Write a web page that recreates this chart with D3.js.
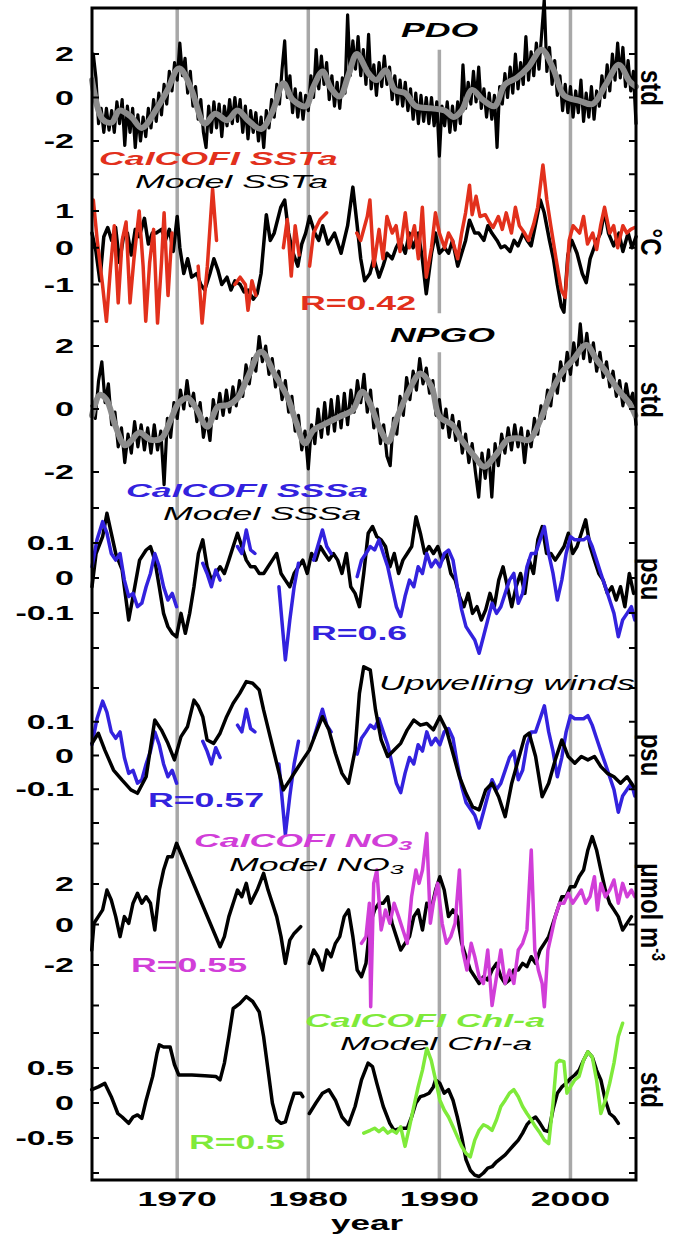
<!DOCTYPE html>
<html><head><meta charset="utf-8">
<script src="https://cdn.jsdelivr.net/npm/d3@7"></script>
<style>
html,body{margin:0;padding:0;background:#fff;}
svg{display:block;}
text{font-family:"Liberation Sans",Arial,Helvetica,sans-serif;}
</style></head><body>
<svg id="chart" width="683" height="1237"></svg>
<script>
// ---------------- DATA ----------------
const xTickYears = [1970, 1980, 1990, 2000];

// PDO monthly-ish index (std), regular step starting 1963.6
const pdoStart = 1963.6, pdoStep = 0.2;
const pdoIndex = [
 2.0,0.9,-1.2,-0.5,-1.6, -0.5,-1.5,-0.6,-1.6,-0.2, -1.2,-0.1,-2.2,-0.4,-1.6, -0.5,-2.3,-0.8,-2.0,-0.9,
 -1.8,-0.5,-1.4,-0.1,-1.1, 0.2,-0.8,0.6,-0.3,1.2, 0.3,1.6,0.8,2.5,1.0, 1.8,0.2,1.2,-0.4,0.5,
 -1.0,-0.1,-1.6,-2.3,-0.4, -1.6,-0.2,-1.4,-0.3,-1.8, -0.4,-1.3,-0.1,-1.2,0.0, -1.1,-0.1,-1.6,-0.4,-1.9,
 -0.6,-1.6,-0.7,-2.0,-0.9, -2.3,-0.6,-1.4,-0.1,-0.9, 0.6,-0.3,1.3,2.6,0.0, 1.0,-0.7,0.4,-0.9,0.2,
 -1.0,0.1,-0.6,1.0,0.0, 2.2,0.4,1.9,0.6,1.6, -0.1,1.0,-0.4,0.7,-0.5, 0.9,0.2,3.8,1.0,2.6,
 1.3,2.8,1.0,2.2,0.6, 2.9,0.4,1.5,0.1,1.6, 0.5,1.9,0.6,1.4,-0.1, 1.0,-0.3,0.8,-0.4,0.7,
 -0.6,0.4,-1.0,0.2,-1.2, 0.1,-1.1,0.0,-1.2,0.0, -1.3,-0.2,-2.7,-0.4,-1.3, -0.2,-1.6,-0.4,-1.5,-0.2,
 -1.2,1.5,-0.5,0.7,-0.3, 1.2,-0.2,1.4,-0.5,0.4, -0.9,0.2,-1.0,0.1,-2.3, 0.5,-0.3,1.1,0.0,1.4,
 0.2,2.0,0.4,1.6,0.6, 2.8,0.8,2.1,1.0,2.5, 1.3,2.9,4.5,1.2,2.3, 0.6,1.7,0.1,1.0,-0.6,
 0.6,-0.7,0.5,-0.9,0.3, -0.7,0.8,-1.1,0.2,-0.9, 0.5,-1.0,0.3,-0.4,1.0, 0.0,1.5,0.3,2.0,0.8,
 2.5,0.9,2.3,0.5,1.7, 0.3,1.2,-1.2
];
const pdoSmooth = [[1963.5,0.8],[1964.3,-1.0],[1965.0,-1.15],[1965.6,-0.6],[1966.5,-0.9],[1967.3,-1.4],[1968.5,-0.45],[1969.3,0.4],[1970.0,1.3],[1970.3,1.3],[1971.1,0.35],[1972.1,-1.2],[1972.9,-0.75],[1973.8,-1.05],[1974.6,-0.6],[1975.4,-1.05],[1976.4,-1.45],[1977.3,-0.6],[1978.1,0.65],[1978.8,-0.1],[1979.8,-0.4],[1980.4,0.5],[1981.1,1.2],[1981.7,0.45],[1982.4,0.05],[1983.1,1.1],[1983.7,2.0],[1984.6,1.1],[1985.2,0.8],[1985.9,1.25],[1986.6,0.35],[1987.4,0.2],[1988.2,-0.4],[1989.4,-0.5],[1990.4,-0.6],[1991.1,-0.9],[1991.7,-0.6],[1992.5,0.35],[1993.3,-0.1],[1994.2,-0.4],[1995.0,0.6],[1995.9,0.9],[1996.8,1.4],[1997.8,2.2],[1998.7,1.3],[1999.5,0.1],[2000.7,-0.15],[2001.7,-0.3],[2002.7,0.6],[2003.7,1.5],[2004.5,0.75],[2005.0,0.5]];

// SST anomalies (degC)
const sstModel = [[1963.5,0.4],[1963.8,-0.1],[1964.1,-0.9],[1964.4,0.3],[1964.7,0.55],[1965.0,0.2],[1965.3,0.55],[1965.6,-0.4],[1965.9,0.3],[1966.2,0.4],[1966.5,-0.2],[1966.8,0.5],[1967.1,0.3],[1967.5,0.8],[1967.8,0.1],[1968.1,0.4],[1968.4,0.4],[1968.8,0.5],[1969.1,0.2],[1969.4,0.5],[1969.7,-0.1],[1970.0,0.85],[1970.2,0.0],[1970.5,-0.7],[1970.8,-0.3],[1971.1,-0.8],[1971.5,-0.7],[1971.8,-1.0],[1972.1,-1.15],[1972.5,-0.7],[1972.8,-0.3],[1973.1,-0.6],[1973.4,-1.0],[1973.8,-0.8],[1974.1,-1.15],[1974.4,-0.9],[1974.8,-1.0],[1975.1,-1.2],[1975.4,-1.15],[1975.8,-1.4],[1976.1,-1.25],[1976.4,-0.7],[1976.8,0.9],[1977.1,0.2],[1977.4,0.4],[1977.9,1.1],[1978.2,1.3],[1978.5,0.4],[1978.8,-0.1],[1979.2,-0.5],[1979.5,0.1],[1979.8,0.4],[1980.1,0.85],[1980.5,0.4],[1980.8,0.2],[1981.1,0.6],[1981.5,0.1],[1982.0,0.4],[1982.5,-0.15],[1983.0,0.6],[1983.4,1.65],[1983.7,0.7],[1984.0,-0.3],[1984.3,-0.9],[1984.7,-0.7],[1985.0,-0.3],[1985.4,-0.8],[1985.7,-0.5],[1986.0,-0.15],[1986.4,-0.3],[1986.7,0.0],[1987.0,0.2],[1987.4,-0.15],[1987.7,0.4],[1988.0,0.0],[1988.4,0.4],[1988.7,-0.3],[1989.0,-1.25],[1989.4,-0.15],[1989.7,0.4],[1990.0,-0.15],[1990.4,0.0],[1990.7,-0.15],[1991.0,0.2],[1991.4,-0.5],[1991.7,-0.15],[1992.0,0.2],[1992.3,0.75],[1992.7,0.4],[1993.0,0.4],[1993.4,0.2],[1993.7,0.6],[1994.0,0.4],[1994.4,0.2],[1994.7,0.0],[1995.0,0.05],[1995.4,-0.1],[1995.7,0.2],[1996.0,0.05],[1996.4,0.4],[1996.7,0.2],[1997.0,0.05],[1997.4,0.75],[1997.7,1.3],[1998.0,0.95],[1998.4,0.2],[1998.7,-0.3],[1999.0,-1.0],[1999.3,-1.6],[1999.5,-1.75],[1999.8,-0.2],[2000.1,0.2],[2000.5,-0.15],[2000.9,-0.7],[2001.2,-0.95],[2001.5,-0.3],[2001.9,0.1],[2002.3,0.4],[2002.6,1.0],[2002.9,0.4],[2003.3,0.05],[2003.7,0.4],[2004.0,-0.1],[2004.4,0.4],[2004.7,0.0],[2005.0,0.3]];
const sstCalcofi = [[1963.6,1.3],[1963.9,0.2],[1964.3,-1.0],[1964.6,-2.0],[1964.9,-0.6],[1965.2,0.6],[1965.5,-1.5],[1965.8,0.2],[1966.1,0.7],[1966.4,-1.5],[1966.7,-0.3],[1967.1,1.0],[1967.4,-0.5],[1967.6,-2.0],[1967.9,-0.4],[1968.2,0.5],[1968.5,-2.05],[1968.8,-0.4],[1969.0,0.95],[1969.3,-1.3],[1969.6,0.4],[1970.8,null],
 [1971.6,-0.5],[1971.9,-2.05],[1972.3,-0.5],[1972.7,1.6],[1973.0,0.2],[1973.7,null],
 [1974.4,-1.0],[1974.8,-0.8],[1975.2,-1.0],[1975.4,-1.7],[1975.7,-0.9],[1976.0,-1.3],[1977.0,null],
 [1978.1,0.0],[1978.4,0.77],[1978.7,-0.77],[1979.0,0.6],[1979.3,-0.2],[1979.7,null],
 [1980.1,-0.5],[1980.4,0.4],[1980.9,0.77],[1981.4,0.95],[1982.5,null],
 [1983.7,0.4],[1984.0,0.2],[1984.5,0.85],[1984.7,1.3],[1985.0,-0.5],[1985.4,0.5],[1985.7,-0.3],[1986.0,0.85],[1986.4,0.4],[1986.7,0.6],[1987.0,-0.1],[1987.4,0.95],[1987.7,0.0],[1988.1,0.6],[1988.4,-0.3],[1988.7,1.1],[1989.0,-0.8],[1989.4,0.0],[1989.7,0.95],[1990.0,0.4],[1990.4,0.0],[1990.7,0.4],[1991.0,0.2],[1991.4,-0.3],[1991.7,0.4],[1992.0,0.95],[1992.3,1.7],[1992.5,0.9],[1992.8,1.4],[1993.1,0.85],[1993.5,0.9],[1993.8,0.7],[1994.1,0.55],[1994.5,0.85],[1994.8,0.5],[1995.1,0.95],[1995.5,0.4],[1995.8,1.1],[1996.1,0.6],[1996.5,0.4],[1996.8,0.2],[1997.2,0.65],[1997.5,1.1],[1997.9,2.25],[1998.2,1.3],[1998.5,0.6],[1998.9,-0.3],[1999.3,-1.15],[1999.6,-1.35],[1999.9,0.2],[2000.2,0.6],[2000.7,0.4],[2001.0,0.85],[2001.3,0.1],[2001.7,0.4],[2002.0,-0.05],[2002.3,0.6],[2002.6,1.1],[2003.0,0.4],[2003.3,0.6],[2003.6,0.0],[2004.0,0.6],[2004.3,0.4],[2004.6,0.5],[2004.9,0.55]];

// NPGO index (std), regular step starting 1963.5
const npgoStart = 1963.5, npgoStep = 0.25;
const npgoIndex = [
 0.1,-0.3,0.9,1.5,0.2, 0.8,-0.5,-0.1,-1.2,-0.6, -1.7,-0.8,-1.4,-0.4,-1.2, -0.5,-1.3,-0.6,-1.4,-0.5,
 -1.3,-0.7,-2.4,-0.3,-0.9, 0.2,-0.3,0.6,0.0,0.9, 0.1,0.5,-0.4,0.2,-0.9, -0.3,-1.0,0.3,-0.3,0.5,
 -0.2,0.6,-0.1,0.7,0.1, 0.9,0.4,1.4,0.8,1.6, 1.2,2.3,1.5,2.0,1.1, 1.6,0.7,1.2,0.3,0.9,
 -0.1,0.4,-0.7,-0.2,-1.3, -0.7,-1.9,-0.5,-1.1,0.0, -0.9,0.2,-0.8,0.3,-0.7, 0.4,-0.6,0.5,-0.5,0.6,
 -0.1,0.9,0.2,1.1,-0.1, 0.6,-0.6,0.0,-1.1,-0.5, -1.5,-1.8,-0.3,-0.8,0.4, -0.2,1.0,0.3,1.2,0.6,
 1.6,0.8,1.3,0.5,0.9, -0.2,0.3,-0.6,0.0,-0.9, -0.2,-1.0,-0.4,-1.4,-0.8, -1.7,-1.1,-2.0,-2.8,-1.4,
 -2.2,-1.3,-2.8,-1.1,-1.8, -0.8,-1.4,-0.6,-1.3,-0.5, -1.2,-0.6,-1.7,-0.7,-1.2, -0.3,-0.8,0.1,-0.3,0.6,
 0.1,1.1,0.5,1.5,0.9, 1.8,1.1,2.1,1.4,2.7, 1.6,2.4,1.5,2.1,1.2, 1.8,1.0,1.5,0.7,1.2,
 0.4,0.9,0.1,0.8,0.2, 0.5,-0.5
];
const npgoSmooth = [[1963.5,-0.2],[1964.1,0.45],[1964.6,0.3],[1965.3,-0.55],[1966.0,-1.15],[1966.5,-1.0],[1967.1,-0.75],[1968.0,-0.98],[1968.8,-0.93],[1969.5,-0.35],[1970.1,0.18],[1970.8,0.35],[1971.45,0.02],[1972.3,-0.56],[1973.1,0.07],[1973.9,0.13],[1974.6,0.34],[1975.4,1.03],[1976.4,1.82],[1977.4,1.13],[1978.4,0.39],[1979.1,-0.45],[1979.75,-1.09],[1980.4,-0.67],[1981.4,-0.45],[1982.4,-0.24],[1983.4,-0.03],[1984.1,0.55],[1984.7,0.18],[1985.4,-0.56],[1986.1,-1.04],[1986.7,-0.35],[1987.7,0.6],[1988.55,1.13],[1989.4,0.71],[1990.0,-0.24],[1991.0,-0.51],[1991.7,-0.98],[1992.7,-1.51],[1993.4,-1.83],[1994.4,-1.41],[1995.2,-0.98],[1996.0,-0.93],[1996.85,-0.98],[1997.7,-0.35],[1998.5,0.5],[1999.3,1.13],[2000.2,1.56],[2001.2,2.03],[2002.0,1.56],[2002.8,1.13],[2003.65,0.6],[2004.5,0.18],[2004.95,-0.2]];

// SSS anomalies (psu)
const sssModel = [[1963.5,-0.025],[1963.81,0.07],[1964.31,0.118],[1964.64,0.185],[1964.97,0.128],[1965.31,0.07],[1965.8,0.023],[1966.3,-0.12],[1966.63,-0.053],[1967.13,0.051],[1967.63,0.08],[1967.96,0.09],[1968.29,0.051],[1968.63,-0.025],[1968.96,-0.101],[1969.29,-0.139],[1969.62,-0.158],[1969.95,-0.168],[1970.29,-0.101],[1970.62,-0.158],[1970.95,-0.101],[1971.28,-0.025],[1971.62,0.07],[1971.95,0.109],[1972.28,0.032],[1972.61,-0.006],[1972.94,0.013],[1973.27,0.032],[1973.6,0.013],[1973.94,0.051],[1974.27,0.09],[1974.6,0.128],[1974.93,0.09],[1975.27,0.051],[1975.6,0.032],[1975.93,0.032],[1976.26,0.013],[1976.6,0.013],[1976.93,0.032],[1977.26,0.051],[1977.59,0.07],[1977.92,0.013],[1978.25,-0.006],[1978.59,-0.025],[1978.92,0.013],[1979.25,0.032],[1979.58,0.051],[1979.92,0.013],[1980.25,0.07],[1980.58,0.051],[1980.91,0.09],[1981.24,0.07],[1981.58,0.051],[1981.91,0.07],[1982.24,0.051],[1982.57,0.013],[1982.91,0.07],[1983.24,-0.025],[1983.57,-0.044],[1983.9,-0.082],[1984.23,0.013],[1984.57,0.128],[1984.9,0.147],[1985.23,0.118],[1985.56,0.109],[1985.89,0.09],[1986.23,0.032],[1986.56,0.07],[1986.89,0.013],[1987.22,0.051],[1987.55,0.07],[1987.89,0.09],[1988.22,0.175],[1988.55,0.128],[1988.88,0.07],[1989.21,0.09],[1989.55,0.07],[1989.88,0.09],[1990.21,0.051],[1990.54,0.07],[1990.87,0.013],[1991.21,-0.006],[1991.54,-0.053],[1991.87,-0.082],[1992.2,-0.044],[1992.53,-0.101],[1992.87,-0.082],[1993.2,-0.12],[1993.53,-0.091],[1993.86,-0.044],[1994.19,-0.082],[1994.53,-0.006],[1994.86,0.032],[1995.19,-0.025],[1995.52,-0.082],[1995.85,-0.025],[1996.19,0.013],[1996.52,-0.044],[1996.85,0.051],[1997.18,0.013],[1997.51,0.109],[1997.85,0.147],[1998.18,0.07],[1998.51,0.07],[1998.84,0.051],[1999.17,0.07],[1999.51,0.09],[1999.84,0.128],[2000.17,0.07],[2000.5,0.09],[2000.83,0.128],[2001.16,0.166],[2001.5,0.09],[2001.83,0.051],[2002.16,0.013],[2002.49,-0.006],[2002.82,-0.044],[2003.16,-0.025],[2003.49,-0.063],[2003.82,-0.025],[2004.15,-0.082],[2004.49,0.013],[2004.82,-0.044]];
const sssCalcofi = [[1963.5,0.032],[1963.88,0.109],[1964.31,0.161],[1964.64,0.128],[1964.97,0.07],[1965.31,0.051],[1965.64,0.07],[1965.97,-0.006],[1966.3,-0.053],[1966.63,-0.044],[1966.97,-0.082],[1967.3,-0.072],[1967.63,-0.025],[1967.96,0.013],[1968.29,0.07],[1968.63,0.032],[1968.96,-0.025],[1969.29,-0.063],[1969.62,-0.044],[1969.95,-0.082],[1970.8,null],
 [1971.95,0.042],[1972.28,0.013],[1972.61,-0.025],[1972.94,0.023],[1973.27,-0.006],[1974.0,null],
 [1974.6,0.09],[1974.93,0.07],[1975.27,0.137],[1975.6,0.08],[1975.93,0.07],[1976.8,null],
 [1977.76,-0.025],[1978.25,-0.234],[1978.59,-0.12],[1978.92,-0.025],[1979.25,0.042],[1979.8,null],
 [1980.41,0.051],[1981.08,0.137],[1981.41,0.09],[1981.74,0.07],[1982.8,null],
 [1983.73,0.004],[1984.06,0.051],[1984.4,0.07],[1984.73,0.09],[1985.06,0.08],[1985.39,0.109],[1985.72,0.07],[1986.06,0.032],[1986.39,-0.025],[1986.72,-0.082],[1987.05,-0.11],[1987.38,-0.053],[1987.72,-0.006],[1988.05,-0.025],[1988.38,0.032],[1988.71,0.013],[1989.04,0.07],[1989.38,0.032],[1989.71,0.051],[1990.04,0.032],[1990.37,0.07],[1990.7,0.08],[1991.04,0.051],[1991.37,-0.025],[1991.7,-0.091],[1992.03,-0.139],[1992.36,-0.158],[1992.7,-0.177],[1993.03,-0.215],[1993.36,-0.168],[1993.69,-0.12],[1994.02,-0.072],[1994.36,-0.101],[1994.69,-0.082],[1995.02,-0.044],[1995.35,-0.006],[1995.68,0.013],[1996.02,-0.072],[1996.35,-0.044],[1996.68,0.032],[1997.01,0.07],[1997.34,0.07],[1997.68,0.109],[1998.01,0.147],[1998.34,0.07],[1998.67,0.013],[1999.0,-0.063],[1999.34,-0.006],[1999.67,0.07],[2000.0,0.118],[2000.33,0.109],[2000.66,0.109],[2001.0,0.109],[2001.33,0.118],[2001.66,0.09],[2001.99,0.051],[2002.32,0.013],[2002.66,-0.025],[2002.99,-0.063],[2003.32,-0.101],[2003.65,-0.168],[2003.98,-0.12],[2004.32,-0.101],[2004.65,-0.082],[2004.91,-0.12]];

// Upwelling-wind driven model salinity (psu)
const upwModel = [[1963.5,0.036],[1963.98,0.066],[1964.48,0.016],[1965.14,-0.043],[1965.8,-0.073],[1966.47,-0.102],[1966.97,-0.112],[1967.63,-0.063],[1968.29,0.105],[1968.79,0.076],[1969.29,0.036],[1969.79,-0.013],[1970.29,0.056],[1970.78,0.085],[1971.28,0.164],[1971.62,0.145],[1971.95,0.115],[1972.28,0.046],[1972.78,0.036],[1973.27,0.066],[1973.77,0.115],[1974.27,0.155],[1974.77,0.184],[1975.27,0.219],[1975.76,0.214],[1976.26,0.194],[1976.59,0.135],[1977.09,0.056],[1977.59,-0.023],[1978.09,-0.102],[1978.59,-0.073],[1979.08,-0.043],[1979.58,-0.013],[1980.08,0.016],[1980.58,0.066],[1981.08,0.115],[1981.57,0.076],[1982.07,0.006],[1982.57,-0.053],[1983.07,-0.082],[1983.57,0.016],[1983.9,0.184],[1984.23,0.263],[1984.73,0.253],[1985.13,0.135],[1985.56,0.046],[1986.06,-0.003],[1986.55,0.016],[1987.05,0.036],[1987.55,0.076],[1988.05,0.105],[1988.55,0.09],[1989.04,0.095],[1989.54,0.076],[1990.04,0.115],[1990.54,0.076],[1991.04,0.006],[1991.53,-0.063],[1992.03,-0.112],[1992.53,-0.152],[1993.03,-0.161],[1993.53,-0.102],[1994.02,-0.082],[1994.52,-0.122],[1995.02,-0.181],[1995.52,-0.082],[1996.02,-0.013],[1996.51,0.056],[1996.85,0.066],[1997.34,-0.003],[1997.84,-0.122],[1998.34,-0.082],[1998.84,-0.013],[1999.34,0.046],[1999.83,-0.003],[2000.33,-0.023],[2000.83,-0.003],[2001.33,-0.013],[2001.83,-0.003],[2002.32,-0.033],[2002.82,-0.053],[2003.32,-0.063],[2003.82,-0.082],[2004.32,-0.063],[2004.81,-0.092]];

// Nitrate (umol m-3)
const no3Model = [[1963.48,-1.26],[1963.65,0.06],[1963.98,0.39],[1964.31,0.72],[1964.64,1.70],[1964.97,1.21],[1965.31,0.39],[1965.64,-0.60],[1965.97,0.39],[1966.3,0.06],[1966.63,1.05],[1966.97,1.54],[1967.3,1.05],[1967.63,1.37],[1967.96,1.05],[1968.29,-0.27],[1968.63,1.70],[1968.96,2.69],[1969.29,3.35],[1969.62,3.35],[1969.95,4.01],[1973.27,-1.10],[1973.6,-0.60],[1973.94,0.39],[1974.27,1.05],[1974.6,1.70],[1974.93,1.37],[1975.27,2.03],[1975.6,1.05],[1976.1,1.70],[1976.59,2.53],[1976.93,1.70],[1977.26,1.05],[1977.59,0.39],[1977.92,-0.60],[1978.25,-1.92],[1978.59,-0.77],[1978.92,-0.44],[1979.42,-0.11],[1979.8,null],[1980.08,-1.92],[1980.41,-1.26],[1980.74,-1.59],[1981.08,-2.25],[1981.41,-1.26],[1981.74,-1.59],[1982.07,-0.93],[1982.4,-0.60],[1982.74,0.39],[1983.07,0.72],[1983.4,-0.60],[1983.73,-2.25],[1984.06,-2.58],[1984.4,-1.92],[1984.73,0.06],[1985.06,0.72],[1985.39,1.05],[1985.72,1.05],[1986.06,1.37],[1986.39,0.06],[1986.72,-0.60],[1987.05,-1.26],[1987.38,-0.93],[1987.72,-0.60],[1988.05,0.39],[1988.38,0.72],[1988.71,-0.27],[1989.04,1.05],[1989.38,0.72],[1989.71,1.70],[1990.04,2.36],[1990.37,1.70],[1990.7,0.39],[1991.04,0.72],[1991.37,0.39],[1991.7,-0.93],[1992.03,-1.59],[1992.36,-2.25],[1992.7,-2.58],[1993.03,-2.91],[1993.36,-2.58],[1993.69,-2.74],[1994.02,-2.25],[1994.36,-1.92],[1994.69,-2.58],[1995.02,-2.91],[1995.35,-2.74],[1995.68,-2.25],[1996.02,-2.25],[1996.35,-1.92],[1996.68,-2.08],[1997.01,-1.59],[1997.34,-1.92],[1997.68,-1.26],[1998.01,-0.93],[1998.34,-0.60],[1998.67,0.06],[1999.0,0.72],[1999.34,1.37],[1999.67,1.37],[2000.0,1.87],[2000.33,1.87],[2000.66,2.36],[2001.0,2.69],[2001.33,3.68],[2001.66,4.34],[2001.99,3.68],[2002.32,2.69],[2002.66,1.70],[2002.99,1.05],[2003.32,0.72],[2003.65,0.39],[2003.98,-0.27],[2004.32,0.06],[2004.65,0.39]];
const no3Calcofi = [[1984.06,-0.93],[1984.4,-0.60],[1984.66,1.05],[1984.76,-4.06],[1984.99,2.03],[1985.23,2.69],[1985.56,-0.27],[1985.89,0.72],[1986.22,0.06],[1986.55,1.05],[1986.89,0.39],[1987.22,-0.27],[1987.55,-0.93],[1987.88,1.37],[1988.21,2.69],[1988.45,2.03],[1988.71,2.69],[1989.04,4.50],[1989.31,0.06],[1989.54,1.05],[1989.87,2.03],[1990.21,0.06],[1990.54,-0.93],[1990.87,-0.60],[1991.2,0.06],[1991.53,2.69],[1991.77,-1.26],[1992.1,-2.25],[1992.43,-0.93],[1992.7,-1.59],[1993.03,-2.58],[1993.36,-2.91],[1993.69,-1.26],[1994.02,-4.0],[1994.36,-2.58],[1994.69,-1.26],[1995.02,-2.91],[1995.35,-2.25],[1995.68,-2.91],[1996.02,-1.26],[1996.35,-0.93],[1996.68,-0.27],[1997.01,3.68],[1997.28,-1.26],[1997.55,-2.25],[1997.84,-2.91],[1998.01,-4.06],[1998.28,-1.26],[1998.51,-0.60],[1998.84,0.39],[1999.17,1.05],[1999.5,1.05],[1999.83,1.54],[2000.17,1.05],[2000.5,1.37],[2000.83,1.70],[2001.16,1.05],[2001.49,1.37],[2001.83,2.36],[2002.06,0.72],[2002.32,2.03],[2002.66,1.37],[2002.99,1.70],[2003.32,2.20],[2003.65,1.05],[2003.98,2.03],[2004.32,1.37],[2004.65,1.70],[2004.91,1.37]];

// Chlorophyll-a (std)
const chlModel = [[1963.48,0.19],[1963.98,0.23],[1964.48,0.28],[1964.97,0.09],[1965.47,-0.15],[1965.8,-0.20],[1966.3,-0.29],[1966.63,-0.20],[1966.97,-0.17],[1967.3,-0.22],[1967.63,0.04],[1968.13,0.38],[1968.46,0.71],[1968.63,0.83],[1968.96,0.80],[1969.46,0.80],[1969.79,0.55],[1970.12,0.40],[1971.12,0.40],[1972.11,0.39],[1972.94,0.38],[1973.27,0.33],[1973.6,0.57],[1973.94,0.95],[1974.27,1.35],[1974.77,1.42],[1975.27,1.52],[1975.76,1.45],[1976.26,1.30],[1976.59,0.95],[1976.93,0.47],[1977.26,0.0],[1977.59,-0.24],[1977.92,-0.29],[1978.25,-0.27],[1978.59,-0.05],[1978.92,0.14],[1979.42,0.14],[1979.58,0.09],[1979.8,null],[1980.08,-0.15],[1980.58,0.0],[1981.08,0.14],[1981.57,0.19],[1982.07,0.04],[1982.57,-0.20],[1983.07,-0.31],[1983.57,-0.05],[1984.06,0.33],[1984.56,0.57],[1984.9,0.52],[1985.23,0.28],[1985.72,-0.05],[1986.22,-0.29],[1986.55,-0.39],[1987.05,-0.36],[1987.55,-0.36],[1987.88,-0.20],[1988.21,0.0],[1988.55,0.09],[1988.88,0.11],[1989.21,0.14],[1989.54,0.23],[1989.71,0.33],[1990.04,0.28],[1990.37,0.14],[1990.7,0.19],[1991.04,0.04],[1991.37,-0.20],[1991.7,-0.48],[1992.03,-0.81],[1992.36,-0.96],[1992.7,-1.03],[1993.03,-1.05],[1993.36,-1.0],[1993.69,-0.93],[1994.02,-0.91],[1994.36,-0.84],[1994.69,-0.79],[1995.02,-0.74],[1995.35,-0.67],[1995.68,-0.60],[1996.02,-0.53],[1996.35,-0.43],[1996.68,-0.31],[1997.01,-0.24],[1997.34,-0.20],[1997.68,-0.29],[1998.01,-0.39],[1998.34,-0.41],[1998.67,-0.09],[1999.0,0.14],[1999.34,0.23],[1999.67,0.28],[2000.0,0.35],[2000.33,0.40],[2000.66,0.47],[2001.0,0.61],[2001.33,0.73],[2001.66,0.66],[2001.99,0.47],[2002.32,0.33],[2002.66,0.04],[2002.99,-0.15],[2003.32,-0.20],[2003.65,-0.29]];
const chlCalcofi = [[1984.23,-0.43],[1984.73,-0.39],[1985.06,-0.36],[1985.39,-0.41],[1985.72,-0.36],[1986.06,-0.43],[1986.39,-0.39],[1986.72,-0.43],[1987.05,-0.34],[1987.38,-0.62],[1987.72,-0.34],[1988.05,-0.05],[1988.38,0.23],[1988.71,0.47],[1989.04,0.78],[1989.38,0.61],[1989.71,0.33],[1990.04,0.04],[1990.37,-0.10],[1990.7,-0.20],[1991.04,-0.34],[1991.37,-0.48],[1991.7,-0.62],[1992.03,-0.72],[1992.36,-0.77],[1992.7,-0.53],[1993.03,-0.39],[1993.36,-0.31],[1993.69,-0.34],[1994.02,-0.39],[1994.36,-0.24],[1994.69,-0.05],[1995.02,0.04],[1995.35,0.14],[1995.68,0.19],[1996.02,0.09],[1996.35,-0.05],[1996.68,-0.15],[1997.01,-0.24],[1997.34,-0.34],[1997.68,-0.43],[1998.01,-0.53],[1998.34,-0.58],[1998.67,0.0],[1998.93,0.57],[1999.17,0.61],[1999.5,0.59],[1999.73,0.14],[2000.0,0.23],[2000.33,0.33],[2000.66,0.38],[2001.0,0.61],[2001.33,0.73],[2001.66,0.66],[2001.99,0.33],[2002.32,-0.15],[2002.66,0.04],[2002.99,0.28],[2003.32,0.57],[2003.65,0.95],[2003.98,1.14]];

// tick labels per panel
const pdoTicks = [2,0,-2], sstTicks = [1,0,-1], npgoTicks = [2,0,-2], sssTicks = [0.1,0,-0.1],
      upwTicks = [0.1,0,-0.1], no3Ticks = [2,0,-2], chlTicks = [0.5,0,-0.5];
const sstMinor = [2,-2], sssMinor = [0.2,-0.2], upwMinor = [0.2,-0.2], no3Minor = [4,-4], chlMinor = [1,-1];

// ---------------- LAYOUT ----------------
const C = {red:'#e2301c', blue:'#3322de', mag:'#d13ed8', green:'#7fea3a', gray:'#8c8c8c', grid:'#a8a8a8'};
const L = 92, R = 636, T = 8, B = 1180;
const svg = d3.select('#chart');
const x = d3.scaleLinear().domain([1963.5, 2005.0]).range([L, R]);

const panels = {
  pdo:  {y: d3.scaleLinear().domain([2,-2]).range([54,141]), ticks: pdoTicks, minor: [], unit:'std', uy: 88},
  sst:  {y: d3.scaleLinear().domain([1,-1]).range([211,284.5]), ticks: sstTicks, minor: sstMinor, unit:'°C', uy: 242},
  npgo: {y: d3.scaleLinear().domain([2,-2]).range([346,472]), ticks: npgoTicks, minor: [], unit:'std', uy: 400},
  sss:  {y: d3.scaleLinear().domain([0.1,-0.1]).range([543,613]), ticks: sssTicks, minor: sssMinor, unit:'psu', uy: 579},
  upw:  {y: d3.scaleLinear().domain([0.2,-0.2]).range([688,823]), ticks: upwTicks, minor: upwMinor, unit:'psu', uy: 755},
  no3:  {y: d3.scaleLinear().domain([2,-2]).range([884,965]), ticks: no3Ticks, minor: no3Minor, unit:'μmol m', unitSup:'-3', uy: 912},
  chl:  {y: d3.scaleLinear().domain([0.5,-0.5]).range([1068,1138]), ticks: chlTicks, minor: chlMinor, unit:'std', uy: 1090}
};

const regular = (start, step, vals) => vals.map((v, i) => [start + i * step, v]);

// gridlines
const gGrid = svg.append('g');
xTickYears.forEach(yr => {
  const segs = yr === 1990
    ? [[panels.pdo.y(2.2), panels.sst.y(-1.78)], [panels.npgo.y(1.8), B]]
    : [[T, B]];
  segs.forEach(s => gGrid.append('line')
    .attr('x1', x(yr)).attr('x2', x(yr)).attr('y1', s[0]).attr('y2', s[1])
    .attr('stroke', C.grid).attr('stroke-width', 3.5));
});

function drawLine(data, p, color, width, curve) {
  const line = d3.line().defined(d => d[1] !== null).x(d => x(d[0])).y(d => p.y(d[1]))
    .curve(curve || d3.curveLinear);
  svg.append('path').datum(data).attr('d', line)
    .attr('fill', 'none').attr('stroke', color).attr('stroke-width', width)
    .attr('stroke-linejoin', 'round').attr('stroke-linecap', 'round');
}
const smooth = d3.curveCatmullRom.alpha(0.5);

drawLine(regular(pdoStart, pdoStep, pdoIndex), panels.pdo, '#000', 3.2);
drawLine(pdoSmooth, panels.pdo, C.gray, 6, smooth);
drawLine(sstModel, panels.sst, '#000', 3.5);
drawLine(sstCalcofi, panels.sst, C.red, 3.5);
drawLine(regular(npgoStart, npgoStep, npgoIndex), panels.npgo, '#000', 3.2);
drawLine(npgoSmooth, panels.npgo, C.gray, 6, smooth);
drawLine(sssModel, panels.sss, '#000', 3.5);
drawLine(sssCalcofi, panels.sss, C.blue, 3.5);
drawLine(sssCalcofi, panels.upw, C.blue, 3.5);
drawLine(upwModel, panels.upw, '#000', 3.5);
drawLine(no3Model, panels.no3, '#000', 3.5);
drawLine(no3Calcofi, panels.no3, C.mag, 3.5);
drawLine(chlModel, panels.chl, '#000', 3.5);
drawLine(chlCalcofi, panels.chl, C.green, 3.5);

// frame
svg.append('rect').attr('x', L).attr('y', T).attr('width', R - L).attr('height', B - T)
  .attr('fill', 'none').attr('stroke', '#000').attr('stroke-width', 3);

const SX = 1.7;
function stretchText(g, tx, ty, parts, o) {
  const t = g.append('text')
    .attr('transform', `translate(${tx},${ty}) scale(${o.sx || SX},1)`)
    .attr('font-size', o.size || 21)
    .attr('font-weight', o.weight || 'bold')
    .attr('font-style', o.style || 'normal')
    .attr('fill', o.fill || '#000')
    .attr('text-anchor', o.anchor || 'start')
    .attr('dy', o.dy || 0);
  parts.forEach(pt => {
    const ts = t.append('tspan').text(pt[0]);
    if (pt[1] === 'sub') ts.attr('font-size', '70%').attr('dy', '0.2em');
  });
  return t;
}

// ticks + tick labels
const gAx = svg.append('g');
Object.values(panels).forEach(p => {
  p.ticks.concat(p.minor).forEach(v => {
    const yy = p.y(v);
    gAx.append('line').attr('x1', L).attr('x2', L + 7).attr('y1', yy).attr('y2', yy).attr('stroke', '#000').attr('stroke-width', 2);
    gAx.append('line').attr('x1', R).attr('x2', R - 7).attr('y1', yy).attr('y2', yy).attr('stroke', '#000').attr('stroke-width', 2);
  });
  p.ticks.forEach(v => {
    stretchText(gAx, 74, p.y(v), [[String(v)]], {size: 20, anchor: 'end', dy: '0.36em'});
  });
  // unit label on the right, rotated
  const u = gAx.append('text')
    .attr('transform', `translate(652,${p.uy}) rotate(90) scale(1,1.25)`)
    .attr('font-size', 24).attr('font-weight', 'bold').attr('text-anchor', 'middle').attr('dy', '0.36em');
  u.append('tspan').text(p.unit);
  if (p.unitSup) u.append('tspan').text(p.unitSup).attr('font-size', '60%').attr('dy', '-0.6em');
});

// x tick labels
xTickYears.forEach(yr => stretchText(gAx, x(yr), 1206, [[String(yr)]], {size: 21, anchor: 'middle'}));
stretchText(gAx, 367, 1230, [['year']], {size: 21, anchor: 'middle', sx: 1.67});

// panel titles / legends / correlations
const gT = svg.append('g');
const B_I = {style: 'italic'};
const LEG_C = {style: 'italic', size: 19, sx: 1.88};            // CalCOFI legend lines
const LEG_M = {style: 'italic', weight: 'normal', size: 19, sx: 1.88}; // Model legend lines
stretchText(gT, 401, 37, [['PDO']], B_I);
stretchText(gT, 99, 165, [['CalCOFI SSTa']], Object.assign({fill: C.red}, LEG_C));
stretchText(gT, 135, 188, [['Model SSTa']], LEG_M);
stretchText(gT, 300, 310, [['R=0.42']], {fill: C.red});
stretchText(gT, 390, 342, [['NPGO']], B_I);
stretchText(gT, 126, 497, [['CalCOFI SSSa']], Object.assign({fill: C.blue}, LEG_C));
stretchText(gT, 163, 520, [['Model SSSa']], LEG_M);
stretchText(gT, 311, 640, [['R=0.6']], {fill: C.blue});
stretchText(gT, 379, 690, [['Upwelling winds']], {style: 'italic', weight: 'normal'});
stretchText(gT, 148, 807, [['R=0.57']], {fill: C.blue});
stretchText(gT, 194, 847, [['CalCOFI NO'], ['3', 'sub']], Object.assign({fill: C.mag}, LEG_C));
stretchText(gT, 229, 871, [['Model NO'], ['3', 'sub']], LEG_M);
stretchText(gT, 131, 972, [['R=0.55']], {fill: C.mag});
stretchText(gT, 305, 1027, [['CalCOFI Chl-a']], Object.assign({fill: C.green}, LEG_C));
stretchText(gT, 340, 1050, [['Model Chl-a']], LEG_M);
stretchText(gT, 189, 1149, [['R=0.5']], {fill: C.green});
</script>
</body></html>
